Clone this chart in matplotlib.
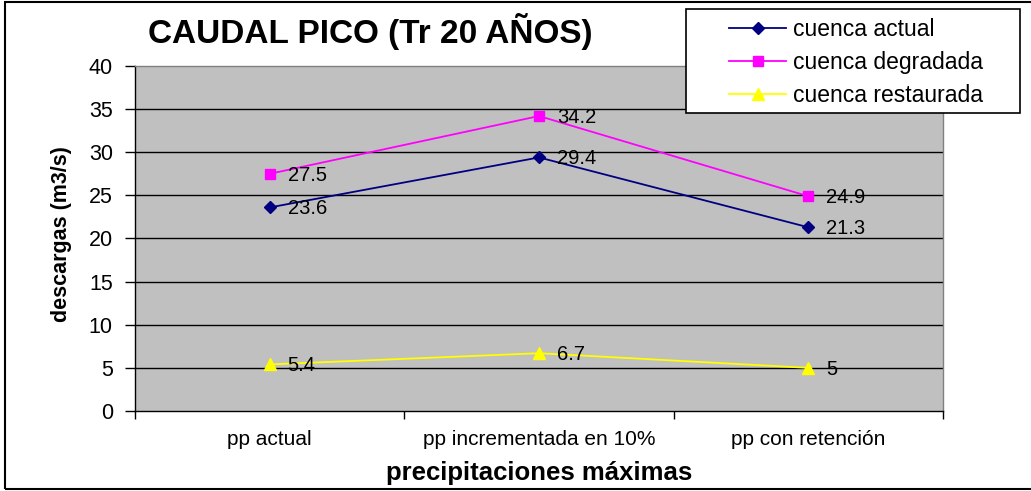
import matplotlib.pyplot as plt
from matplotlib.patches import Rectangle

categories = ['pp actual', 'pp incrementada en 10%', 'pp con retención']
actual = [23.6, 29.4, 21.3]
degradada = [27.5, 34.2, 24.9]
restaurada = [5.4, 6.7, 5.0]
value_labels = {
    'actual': ['23.6', '29.4', '21.3'],
    'degradada': ['27.5', '34.2', '24.9'],
    'restaurada': ['5.4', '6.7', '5'],
}

plt.rcParams['font.family'] = ['Liberation Sans', 'DejaVu Sans']

W, H = 1031, 491
fig = plt.figure(figsize=(W / 100, H / 100), dpi=100)
ax = fig.add_axes([135 / W, 1 - 411 / H, (943 - 135) / W, (411 - 66) / H])
ax.set_facecolor('#C0C0C0')

x = [0.5, 1.5, 2.5]
series = [
    ('cuenca actual', actual, '#000080', 'D', 6.5, 'actual'),
    ('cuenca degradada', degradada, '#FF00FF', 's', 7.5, 'degradada'),
    ('cuenca restaurada', restaurada, '#FFFF00', '^', 8.5, 'restaurada'),
]
handles = []
for label, vals, color, marker, ms, key in series:
    h, = ax.plot(x, vals, color=color, marker=marker, markersize=ms, lw=1.3,
                 label=label, zorder=3)
    handles.append(h)
    for xi, v, t in zip(x, vals, value_labels[key]):
        ax.annotate(t, (xi, v), xytext=(13, -1), textcoords='offset points',
                    ha='left', va='center', fontsize=14.5, color='black', zorder=4)

ax.set_xlim(0, 3)
ax.set_ylim(0, 40)
ax.set_yticks(range(0, 41, 5))
ax.tick_params(axis='y', labelsize=15.5, length=7, width=1, direction='out', pad=9)
ax.set_xticks([0, 1, 2, 3])
ax.set_xticklabels([])
ax.set_xticks(x, minor=True)
ax.set_xticklabels(categories, minor=True, fontsize=15)
ax.tick_params(axis='x', which='major', length=6, width=1, direction='out')
ax.tick_params(axis='x', which='minor', length=0, pad=14)
for y in range(5, 40, 5):
    ax.axhline(y, color='black', lw=1, zorder=1)
ax.spines['left'].set_color('black')
ax.spines['bottom'].set_color('black')
ax.spines['top'].set_color('#808080')
ax.spines['right'].set_color('#808080')
for s in ax.spines.values():
    s.set_linewidth(1)

ax.set_ylabel('descargas (m3/s)', fontsize=15.5, fontweight='bold')
ax.yaxis.set_label_coords((72 - 135) / 808, 0.513)
ax.set_xlabel('precipitaciones máximas', fontsize=18.5, fontweight='bold')
ax.xaxis.set_label_coords(0.5, -(461 - 411) / 345)

fig.text(370 / W, 1 - 31 / H, 'CAUDAL PICO (Tr 20 AÑOS)', fontsize=24,
         fontweight='bold', ha='center', va='center')

# legend box drawn as its own patch, legend entries placed inside it
fig.patches.append(Rectangle((686 / W, 1 - 113 / H), (1020 - 686) / W, 104 / H,
                             transform=fig.transFigure, facecolor='white',
                             edgecolor='black', lw=1.2, zorder=2))
leg = fig.legend(handles=handles, loc='upper left',
                 bbox_to_anchor=(729 / W, 1 - 18 / H), fontsize=16.5,
                 frameon=False, handlelength=2.5, labelspacing=0.43,
                 borderpad=0, borderaxespad=0, handletextpad=0.3)
leg.set_zorder(3)

fig.patches.append(Rectangle((5 / W, 2 / H), 1040 / W, 487 / H,
                             transform=fig.transFigure, fill=False,
                             edgecolor='black', lw=1.5))

fig.savefig('out.png', dpi=100)
